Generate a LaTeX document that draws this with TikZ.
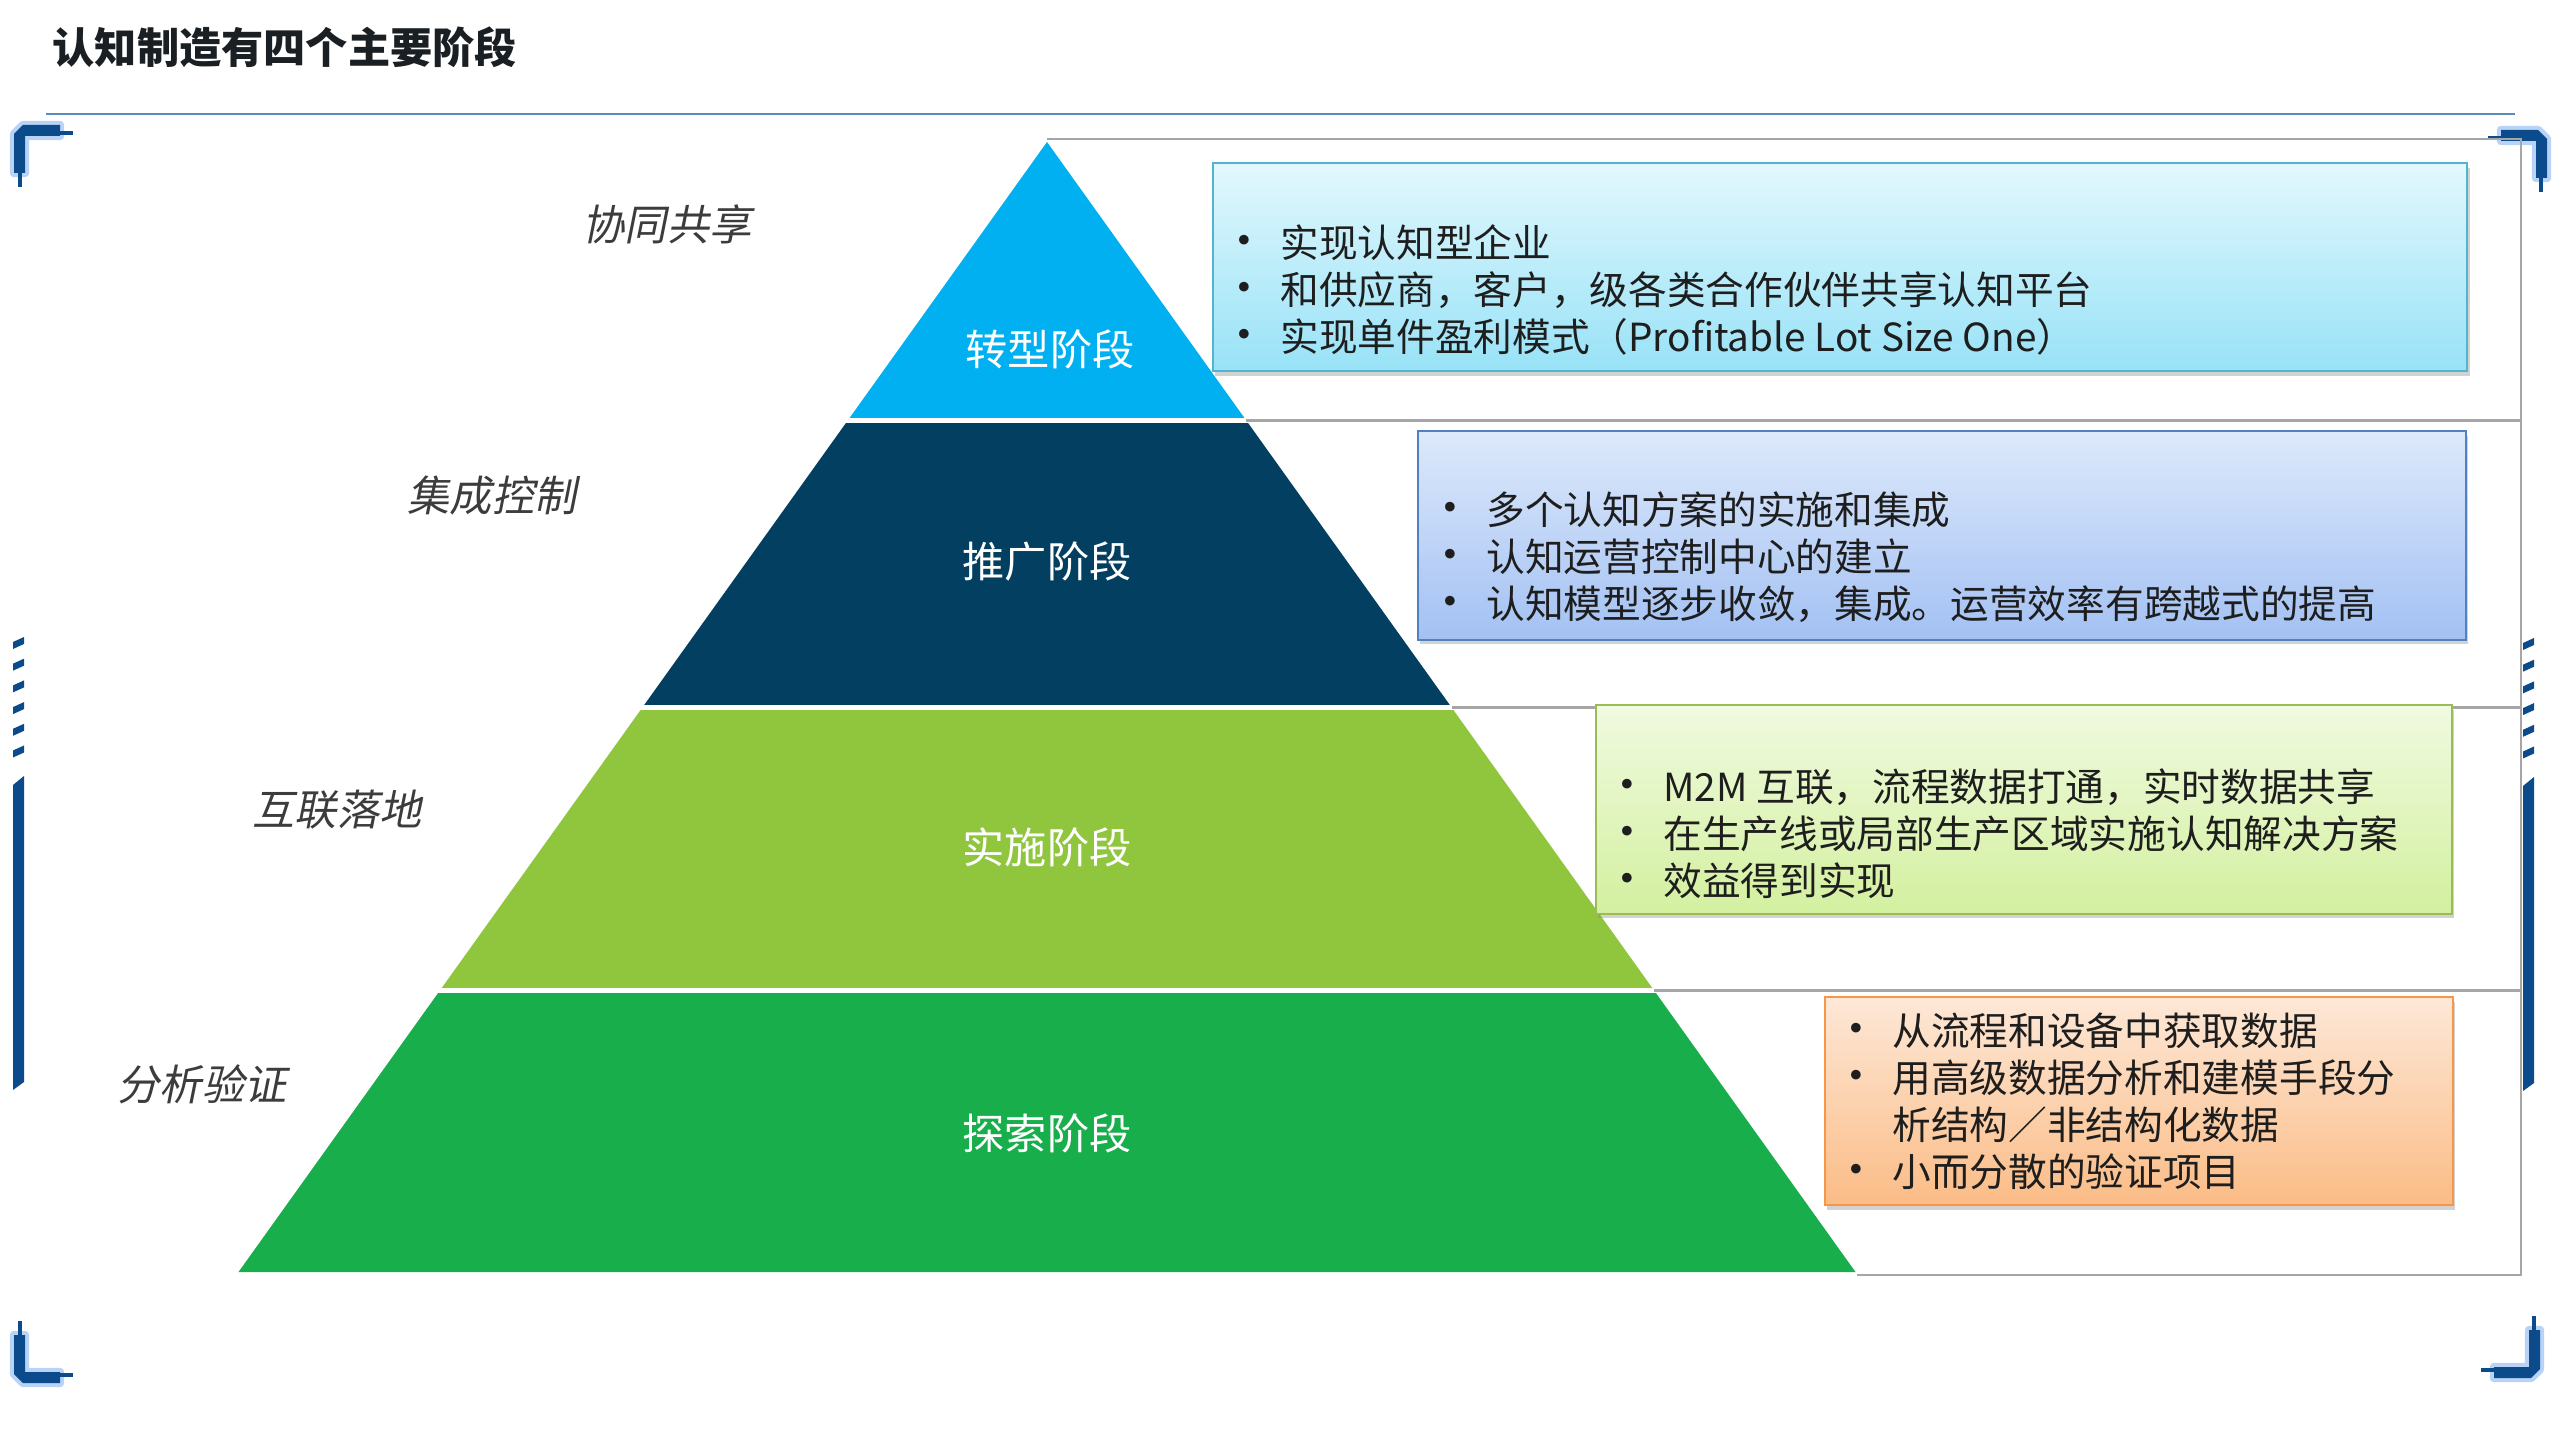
\documentclass[tikz,border=0pt]{standalone}
\usepackage{fontspec}
\setmainfont{Noto Sans CJK SC}
\newfontfamily\slantfont{Noto Sans CJK SC}[FakeSlant=0.2]
\usepackage{tikz}
\usetikzlibrary{positioning,shadows}
\definecolor{titleink}{HTML}{1A1F24}
\definecolor{textink}{HTML}{1E1E1E}
\definecolor{labelgray}{HTML}{3C3C3C}
\definecolor{ruleblue}{HTML}{5A8AB8}
\definecolor{guidegray}{HTML}{A6A6A6}
\definecolor{frameblue}{HTML}{0B4B8C}
\definecolor{glowblue}{HTML}{B9D3F7}
\definecolor{tierone}{HTML}{00B0F0}
\definecolor{tiertwo}{HTML}{023F60}
\definecolor{tierthree}{HTML}{8FC63E}
\definecolor{tierfour}{HTML}{18AE4B}
\definecolor{cyanedge}{HTML}{52B4CE}
\definecolor{cyantop}{HTML}{E2F8FD}
\definecolor{cyanbot}{HTML}{98E2F7}
\definecolor{blueedge}{HTML}{5181C0}
\definecolor{bluetop}{HTML}{DDE9FB}
\definecolor{bluebot}{HTML}{A3C1F3}
\definecolor{greenedge}{HTML}{9BBB59}
\definecolor{greentop}{HTML}{F0FAE0}
\definecolor{greenbot}{HTML}{D3F09F}
\definecolor{orangeedge}{HTML}{F79646}
\definecolor{orangetop}{HTML}{FDE8D7}
\definecolor{orangebot}{HTML}{FBBC86}
\newcommand\bul{\makebox[0.44cm][l]{\hspace*{-0.15cm}{\fontsize{13pt}{13.4pt}\selectfont\textbullet}}}

\begin{document}
\begin{tikzpicture}[x=0.01cm,y=-0.01cm,
  tierlabel/.style={text=white,font=\fontsize{12pt}{14pt}\selectfont},
  sidelabel/.style={text=labelgray,font=\slantfont\fontsize{12pt}{14pt}\selectfont},
  guide/.style={draw=guidegray,line width=0.6pt},
  infobox/.style={line width=0.6pt,inner sep=0pt,minimum height=2.08cm,
    drop shadow={shadow xshift=0.6pt,shadow yshift=-1.4pt,opacity=0.35}},
  itemtext/.style={text=textink,font=\fontsize{11pt}{13.4pt}\selectfont,align=left,inner sep=0pt,anchor=west},
  framecorner/.pic={
    \fill[frameblue,preaction={draw=glowblue,line width=2.4pt,line join=round}]
      (0,9) -- (9,0) -- (46,0) -- (46,11) -- (11,11) -- (11,48) -- (0,48) -- cycle;
    \fill[frameblue] (46,6) rectangle (59,10);
    \fill[frameblue] (4,48) rectangle (8,62);
  },
  sidebar/.pic={
    \foreach \k in {0,...,5}
      \fill[frameblue] (0,{5+21.7*\k}) -- (11,{21.7*\k}) -- (11,{7+21.7*\k}) -- (0,{12+21.7*\k}) -- cycle;
    \fill[frameblue] (0,148) -- (11,139) -- (11,445) -- (0,453) -- cycle;
  }]
  \useasboundingbox[fill=white] (0,0) rectangle (2560,1440);

  \node[anchor=west,inner sep=0pt,text=titleink,font=\bfseries\fontsize{12pt}{14pt}\selectfont] (title) at (52,47) {认知制造有四个主要阶段};
  \draw[ruleblue,line width=0.6pt] (46,114) -- (2515,114);

  \pic at (14,125) {framecorner};
  \pic[xscale=-1] at (2547,130) {framecorner};
  \pic[yscale=-1] at (14,1383) {framecorner};
  \pic[xscale=-1,yscale=-1] at (2540,1378) {framecorner};
  \pic at (13,637) {sidebar};
  \pic at (2523,638) {sidebar};

  \coordinate (apex) at (1047,142);
  \coordinate (baseL) at (238.5,1272);
  \coordinate (baseR) at (1855.5,1272);
  \draw[guide] (1047,139) -- (2521,139) -- (2521,1275) -- (1857,1275);
  \draw[guide] (1246,420.5) -- (2521,420.5);
  \draw[guide] (1452,707.5) -- (2521,707.5);
  \draw[guide] (1654,990.5) -- (2521,990.5);

  \begin{scope}
    \clip (apex) -- (baseR) -- (baseL) -- cycle;
    \fill[tierone] (200,130) rectangle (1900,418);
    \fill[tiertwo] (200,423) rectangle (1900,705);
    \fill[tierthree] (200,710) rectangle (1900,988);
    \fill[tierfour] (200,993) rectangle (1900,1280);
  \end{scope}

  \node[tierlabel] (stageA) at (1050,349) {转型阶段};
  \node[tierlabel] (stageB) at (1047,562) {推广阶段};
  \node[tierlabel] (stageC) at (1047,847) {实施阶段};
  \node[tierlabel] (stageD) at (1047,1133) {探索阶段};

  \node[sidelabel] (levelA) at (667,224) {协同共享};
  \node[sidelabel] (levelB) at (492,496) {集成控制};
  \node[sidelabel] (levelC) at (337,810) {互联落地};
  \node[sidelabel] (levelD) at (202,1084) {分析验证};

  \node[infobox,draw=cyanedge,top color=cyantop,bottom color=cyanbot,minimum width=12.54cm] (shareBox) at (1840,267) {};
  \node[infobox,draw=blueedge,top color=bluetop,bottom color=bluebot,minimum width=10.48cm] (pushBox) at (1942,535.5) {};
  \node[infobox,draw=greenedge,top color=greentop,bottom color=greenbot,minimum width=8.56cm] (linkBox) at (2024,809.5) {};
  \node[infobox,draw=orangeedge,top color=orangetop,bottom color=orangebot,minimum width=6.28cm] (probeBox) at (2139,1101) {};

  \node[itemtext] (shareText) at ([xshift=0.24cm,yshift=-0.23cm]shareBox.west)
    {\bul 实现认知型企业\\ \bul 和供应商，客户，级各类合作伙伴共享认知平台\\ \bul 实现单件盈利模式（Profitable Lot Size One）};
  \node[itemtext] (pushText) at ([xshift=0.25cm,yshift=-0.215cm]pushBox.west)
    {\bul 多个认知方案的实施和集成\\ \bul 认知运营控制中心的建立\\ \bul 认知模型逐步收敛，集成。运营效率有跨越式的提高};
  \node[itemtext] (linkText) at ([xshift=0.24cm,yshift=-0.24cm]linkBox.west)
    {\bul M2M 互联，流程数据打通，实时数据共享\\ \bul 在生产线或局部生产区域实施认知解决方案\\ \bul 效益得到实现};
  \node[itemtext] (probeText) at ([xshift=0.24cm]probeBox.west)
    {\bul 从流程和设备中获取数据\\ \bul 用高级数据分析和建模手段分\\ \hspace*{0.44cm}析结构／非结构化数据\\ \bul 小而分散的验证项目};
\end{tikzpicture}
\end{document}
